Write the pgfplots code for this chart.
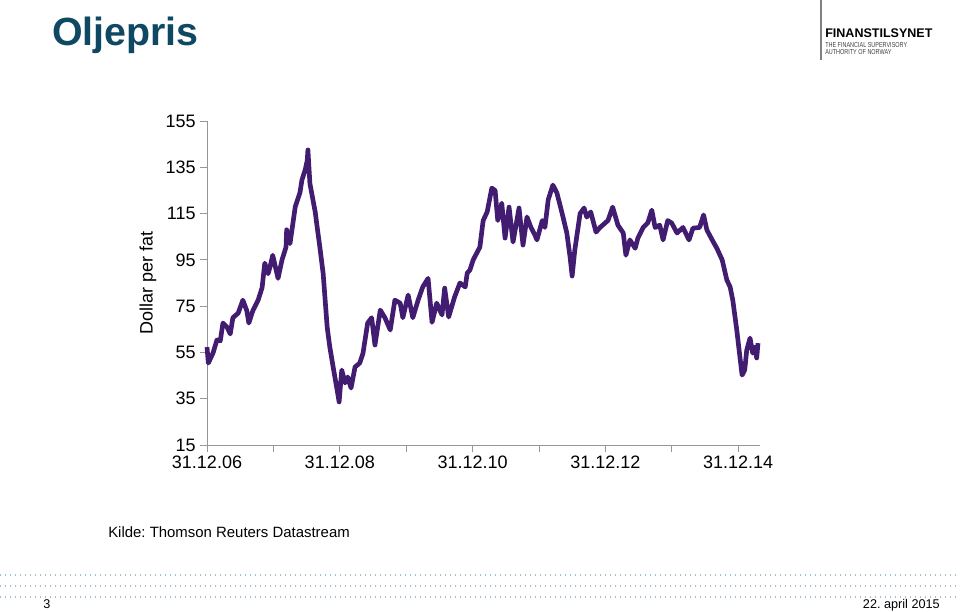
\documentclass[border=0pt]{standalone}
\usepackage{pgfplots}
\pgfplotsset{compat=1.18}
\usepackage{fontspec}
\setmainfont{Liberation Sans}
\frenchspacing
\definecolor{oilline}{RGB}{66,28,112}
\definecolor{titleblue}{RGB}{14,72,98}
\definecolor{axgray}{RGB}{150,150,150}
\definecolor{dotblue}{RGB}{160,192,210}
\begin{document}
\begin{tikzpicture}[x=0.75pt,y=0.75pt]
\path[use as bounding box] (0,0) rectangle (960,611);
% title
\node[anchor=base west,inner sep=0pt,text=titleblue,font=\fontsize{29.5}{34}\selectfont\bfseries] at (52,565) {Oljepris};
% logo
\draw[gray,line width=0.8pt] (821,611) -- (821,551);
\node[anchor=base west,inner sep=0pt,font=\fontsize{9.4}{11}\selectfont\bfseries] at (825,573) {FINANSTILSYNET};
\node[anchor=base west,inner sep=0pt,text=black!75,font=\fontsize{5.4}{7}\selectfont] at (825,563) {\scalebox{0.76}[1]{THE FINANCIAL SUPERVISORY}};
\node[anchor=base west,inner sep=0pt,text=black!75,font=\fontsize{5.4}{7}\selectfont] at (825,556) {\scalebox{0.76}[1]{AUTHORITY OF NORWAY}};
% source
\node[anchor=base west,inner sep=0pt,font=\fontsize{11.2}{13}\selectfont] at (108,74) {Kilde: Thomson Reuters Datastream};
% dotted band
\foreach \yy in {36,25,14}{
  \draw[dotblue,line width=1.3pt,dash pattern=on 1pt off 2.75pt] (0,\yy) -- (960,\yy);
}
\node[anchor=base west,inner sep=0pt,font=\fontsize{9.5}{11}\selectfont] at (43,3) {3};
\node[anchor=base east,inner sep=0pt,font=\fontsize{9.5}{11}\selectfont] at (940,3) {22. april 2015};
\begin{axis}[
  at={(155.25pt,124.5pt)}, anchor=south west,
  scale only axis,
  width=414.75pt, height=243pt,
  xmin=2007, xmax=2015.33,
  ymin=15, ymax=155,
  axis x line*=bottom, axis y line*=left,
  axis line style={axgray,-},
  every tick/.style={axgray,line width=0.6pt},
  tick align=outside,
  major tick length=5pt,
  minor tick length=5pt,
  xtick={2007,2009,2011,2013,2015},
  xticklabels={31.12.06,31.12.08,31.12.10,31.12.12,31.12.14},
  minor xtick={2008,2010,2012,2014},
  ytick={15,35,55,75,95,115,135,155},
  tick label style={font=\fontsize{13.5}{16}\selectfont},
  /pgf/number format/assume math mode=true,
  ylabel={Dollar per fat},
  ylabel style={font=\fontsize{13.5}{16}\selectfont},
  clip=false,
]
\addplot[oilline,line width=3.5pt,line join=round] table {
x y
2007.00 57.3
2007.02 50.4
2007.09 54.7
2007.15 60.4
2007.20 60.0
2007.24 67.7
2007.30 66.0
2007.35 63.0
2007.39 70.0
2007.47 72.0
2007.54 77.6
2007.60 73.0
2007.63 67.7
2007.69 73.0
2007.77 77.6
2007.83 83.0
2007.87 93.6
2007.92 89.0
2007.95 92.0
2007.99 97.0
2008.07 87.0
2008.13 95.0
2008.19 100.5
2008.20 108.0
2008.25 102.0
2008.33 118.0
2008.40 124.0
2008.43 129.5
2008.48 134.0
2008.51 138.0
2008.52 142.5
2008.55 128.0
2008.63 115.7
2008.66 109.0
2008.70 100.5
2008.75 89.0
2008.81 66.0
2008.85 57.3
2008.90 48.7
2008.96 38.8
2008.99 33.6
2009.03 47.4
2009.08 41.8
2009.12 44.4
2009.17 39.6
2009.23 48.7
2009.30 50.4
2009.35 54.7
2009.42 67.7
2009.48 70.0
2009.53 58.2
2009.61 73.3
2009.68 70.0
2009.76 64.7
2009.83 77.6
2009.91 76.3
2009.95 70.0
2010.03 79.8
2010.10 70.0
2010.18 77.6
2010.25 83.3
2010.33 87.0
2010.39 68.0
2010.46 76.3
2010.54 71.2
2010.58 82.8
2010.64 70.3
2010.73 79.0
2010.81 85.0
2010.89 83.3
2010.92 89.3
2010.96 90.6
2011.01 95.0
2011.11 100.5
2011.16 112.0
2011.22 115.7
2011.29 126.0
2011.34 125.0
2011.38 112.0
2011.44 119.5
2011.49 104.4
2011.55 117.8
2011.61 102.7
2011.70 117.4
2011.76 101.4
2011.82 113.5
2011.88 109.0
2011.94 105.7
2011.97 103.6
2012.05 112.0
2012.09 109.0
2012.14 121.0
2012.21 127.3
2012.27 124.0
2012.35 115.0
2012.42 106.6
2012.47 96.0
2012.50 88.0
2012.54 99.2
2012.62 115.0
2012.68 117.4
2012.72 113.5
2012.78 115.7
2012.86 107.0
2012.92 109.0
2013.04 112.0
2013.11 117.8
2013.19 110.0
2013.27 106.6
2013.31 97.0
2013.37 103.6
2013.45 100.0
2013.49 104.4
2013.57 109.0
2013.64 111.0
2013.70 116.5
2013.75 109.0
2013.82 110.0
2013.87 103.6
2013.94 112.0
2014.00 110.9
2014.08 106.6
2014.17 109.0
2014.26 103.6
2014.32 108.7
2014.42 109.0
2014.48 114.4
2014.53 107.9
2014.61 103.6
2014.68 100.0
2014.76 95.0
2014.83 86.3
2014.88 83.3
2014.92 77.6
2014.98 64.7
2015.01 57.3
2015.06 45.2
2015.10 47.4
2015.13 56.0
2015.18 61.2
2015.22 54.7
2015.25 57.3
2015.28 52.6
2015.30 59.0
};
\end{axis}
\end{tikzpicture}
\end{document}
